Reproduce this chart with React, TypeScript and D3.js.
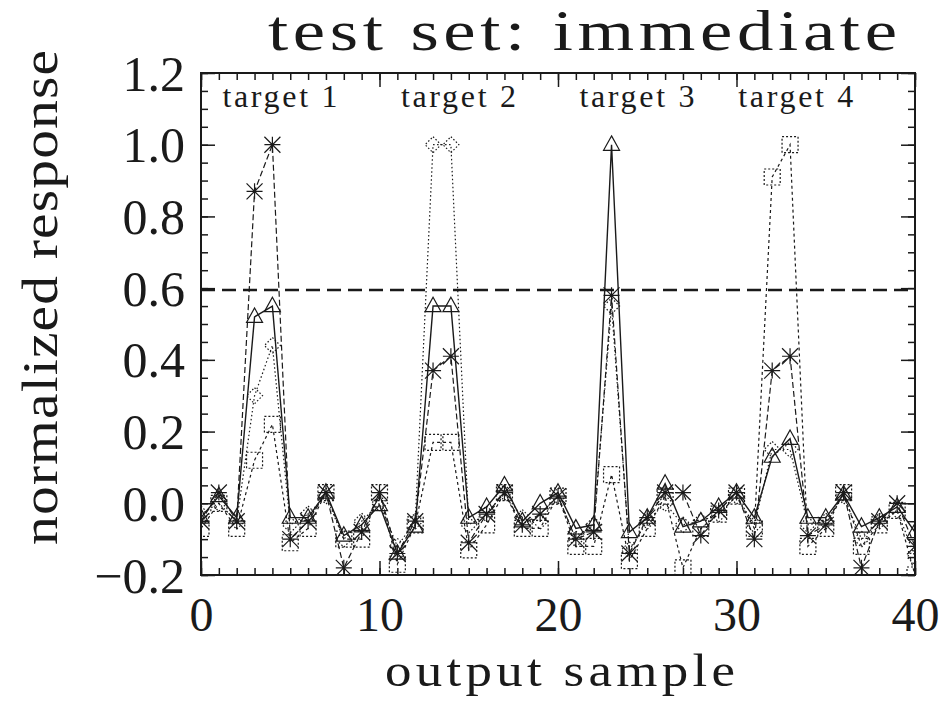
import React, { useEffect, useRef } from "react";
import * as d3 from "d3";

const SAMPLES = d3.range(0, 41);
const TRIANGLE = [-0.04, 0.02, -0.04, 0.52, 0.55, -0.04, -0.04, 0.03, -0.09, -0.06, -0.005, -0.14, -0.065, 0.55, 0.55, -0.04, -0.01, 0.05, -0.05, 0.0, 0.03, -0.07, -0.06, 1.0, -0.08, -0.04, 0.055, -0.065, -0.05, -0.01, 0.03, -0.04, 0.13, 0.18, -0.04, -0.04, 0.025, -0.065, -0.04, -0.01, -0.08];
const ASTERISK = [-0.05, 0.03, -0.05, 0.87, 1.0, -0.1, -0.05, 0.03, -0.18, -0.08, 0.03, -0.14, -0.05, 0.37, 0.41, -0.11, -0.03, 0.03, -0.06, -0.03, 0.02, -0.1, -0.08, 0.58, -0.14, -0.04, 0.03, 0.03, -0.09, -0.02, 0.03, -0.1, 0.37, 0.41, -0.09, -0.06, 0.03, -0.18, -0.05, 0.0, -0.12];
const SQUARE = [-0.07, 0.0, -0.07, 0.12, 0.22, -0.11, -0.07, 0.03, -0.1, -0.1, 0.03, -0.17, -0.06, 0.17, 0.17, -0.13, -0.06, 0.03, -0.07, -0.07, 0.02, -0.12, -0.12, 0.08, -0.16, -0.07, 0.02, -0.18, -0.07, -0.03, 0.02, -0.07, 0.91, 1.0, -0.12, -0.07, 0.03, -0.12, -0.06, -0.02, -0.2];
const DIAMOND = [-0.03, 0.0, -0.05, 0.3, 0.44, -0.06, -0.03, 0.02, -0.1, -0.05, 0.0, -0.12, -0.05, 1.0, 1.0, -0.06, -0.03, 0.03, -0.04, -0.05, 0.02, -0.1, -0.06, 0.55, -0.13, -0.05, 0.0, -0.06, -0.05, -0.03, 0.02, -0.06, 0.15, 0.15, -0.06, -0.05, 0.02, -0.1, -0.05, -0.02, -0.15];
const THRESHOLD = 0.595;
const TARGET_LABELS = ["target 1", "target 2", "target 3", "target 4"];
const TARGET_LABEL_X = [1.2, 11.2, 21.2, 30.1];
const X_TICKS = [0, 10, 20, 30, 40];
const Y_TICKS = [-0.2, 0.0, 0.2, 0.4, 0.6, 0.8, 1.0, 1.2];
const TITLE = "test set: immediate";
const X_LABEL = "output sample";
const Y_LABEL = "normalized response";

const W = 942, H = 703;
const L = 201, R = 915, T = 73, B = 575;
const FONT = "'Liberation Serif', 'DejaVu Serif', serif";
const INK = "#1a1a1a";

type Series = { values: number[]; dash: string; marker: string; markerDash: string; width: number };
const SERIES: Series[] = [
  { values: DIAMOND, dash: "1.5,2.5", marker: "diamond", markerDash: "1.5,2", width: 1.2 },
  { values: SQUARE, dash: "3,3", marker: "square", markerDash: "2,2", width: 1.2 },
  { values: ASTERISK, dash: "6,3", marker: "asterisk", markerDash: "none", width: 1.2 },
  { values: TRIANGLE, dash: "none", marker: "triangle", markerDash: "none", width: 1.4 },
];

function markerPath(kind: string, cx: number, cy: number): string {
  const s = 8;
  const p = d3.path();
  if (kind === "triangle") {
    p.moveTo(cx, cy - s * 1.1);
    p.lineTo(cx + s, cy + s * 0.7);
    p.lineTo(cx - s, cy + s * 0.7);
    p.closePath();
  } else if (kind === "square") {
    p.rect(cx - s, cy - s, 2 * s, 2 * s);
  } else if (kind === "diamond") {
    p.moveTo(cx, cy - s);
    p.lineTo(cx + s, cy);
    p.lineTo(cx, cy + s);
    p.lineTo(cx - s, cy);
    p.closePath();
  } else {
    p.moveTo(cx - s, cy - s); p.lineTo(cx + s, cy + s);
    p.moveTo(cx - s, cy + s); p.lineTo(cx + s, cy - s);
    p.moveTo(cx - s, cy); p.lineTo(cx + s, cy);
    p.moveTo(cx, cy - s); p.lineTo(cx, cy + s);
  }
  return p.toString();
}

export default function App() {
  const ref = useRef<SVGSVGElement | null>(null);
  useEffect(() => {
    const svg = d3.select(ref.current);
    svg.selectAll("*").remove();
    const x = d3.scaleLinear().domain([0, 40]).range([L, R]);
    const y = d3.scaleLinear().domain([-0.2, 1.2]).range([B, T]);

    const defs = svg.append("defs");
    defs.append("clipPath").attr("id", "plotclip").append("rect")
      .attr("x", L).attr("y", T).attr("width", R - L).attr("height", B - T);

    const xMinor = d3.range(0, 41, 1);
    const yMinor = d3.range(-4, 25).map((d) => d * 0.05);

    const axisStyle = (g: any) => {
      g.select(".domain").remove();
      g.selectAll("line").attr("stroke", INK).attr("stroke-width", 1.5);
    };
    svg.append("g").attr("transform", `translate(0,${B})`)
      .call(d3.axisBottom(x).tickValues(xMinor).tickSize(-7).tickFormat(() => "")).call(axisStyle);
    svg.append("g").attr("transform", `translate(0,${T})`)
      .call(d3.axisTop(x).tickValues(xMinor).tickSize(-7).tickFormat(() => "")).call(axisStyle);
    svg.append("g").attr("transform", `translate(${L},0)`)
      .call(d3.axisLeft(y).tickValues(yMinor).tickSize(-7).tickFormat(() => "")).call(axisStyle);
    svg.append("g").attr("transform", `translate(${R},0)`)
      .call(d3.axisRight(y).tickValues(yMinor).tickSize(-7).tickFormat(() => "")).call(axisStyle);
    const xb = svg.append("g").attr("transform", `translate(0,${B})`)
      .call(d3.axisBottom(x).tickValues(X_TICKS).tickSize(-14).tickPadding(56).tickFormat(d3.format("d")));
    xb.call(axisStyle);
    xb.selectAll("text").attr("font-family", FONT).attr("font-size", 48).attr("fill", INK).attr("dy", "0");
    svg.append("g").attr("transform", `translate(0,${T})`)
      .call(d3.axisTop(x).tickValues(X_TICKS).tickSize(-14).tickFormat(() => "")).call(axisStyle);
    const yl = svg.append("g").attr("transform", `translate(${L},0)`)
      .call(d3.axisLeft(y).tickValues(Y_TICKS).tickSize(-14).tickPadding(16).tickFormat((d: any) => d3.format(".1f")(d).replace("-", "\u2212")));
    yl.call(axisStyle);
    yl.selectAll("text").attr("font-family", FONT).attr("font-size", 50).attr("fill", INK).attr("dy", "0.34em");
    svg.append("g").attr("transform", `translate(${R},0)`)
      .call(d3.axisRight(y).tickValues(Y_TICKS).tickSize(-14).tickFormat(() => "")).call(axisStyle);

    svg.append("rect").attr("x", L).attr("y", T).attr("width", R - L).attr("height", B - T)
      .attr("fill", "none").attr("stroke", INK).attr("stroke-width", 2);

    const plot = svg.append("g").attr("clip-path", "url(#plotclip)");
    plot.append("line").attr("x1", x(0)).attr("x2", x(40)).attr("y1", y(THRESHOLD)).attr("y2", y(THRESHOLD))
      .attr("stroke", INK).attr("stroke-width", 2.6).attr("stroke-dasharray", "14,7");

    const line = d3.line<number>().x((_, i) => x(SAMPLES[i])).y((d) => y(d));
    SERIES.forEach((s) => {
      plot.append("path").attr("d", line(s.values)!).attr("fill", "none")
        .attr("stroke", INK).attr("stroke-width", s.width).attr("stroke-dasharray", s.dash);
      plot.append("g").selectAll("path").data(s.values).join("path")
        .attr("d", (d, i) => markerPath(s.marker, x(SAMPLES[i]), y(d)))
        .attr("fill", "none").attr("stroke", INK).attr("stroke-width", 1.2)
        .attr("stroke-dasharray", s.markerDash);
    });

    svg.append("g").selectAll("text").data(TARGET_LABELS).join("text")
      .attr("x", (_, i) => x(TARGET_LABEL_X[i])).attr("y", 107)
      .attr("font-family", FONT).attr("font-size", 32).attr("fill", INK)
      .attr("textLength", 115).attr("lengthAdjust", "spacing")
      .text((d) => d);

    const sx = 1.3;
    svg.append("text").attr("transform", `translate(268,50) scale(${sx},1)`).attr("font-family", FONT).attr("font-size", 56)
      .attr("fill", INK).attr("textLength", 629 / sx).attr("lengthAdjust", "spacing").text(TITLE);
    svg.append("text").attr("transform", `translate(385,686) scale(1.15,1)`).attr("font-family", FONT).attr("font-size", 46)
      .attr("fill", INK).attr("textLength", 350 / 1.15).attr("lengthAdjust", "spacing").text(X_LABEL);
    svg.append("text").attr("transform", `translate(57,545) rotate(-90) scale(1.15,1)`).attr("font-family", FONT)
      .attr("font-size", 50).attr("fill", INK).attr("textLength", 495 / 1.15).attr("lengthAdjust", "spacing")
      .text(Y_LABEL);
  }, []);
  return (
    <svg ref={ref} width={W} height={H} viewBox={`0 0 ${W} ${H}`}
      style={{ position: "absolute", left: 0, top: 0, background: "#fff" }} />
  );
}
